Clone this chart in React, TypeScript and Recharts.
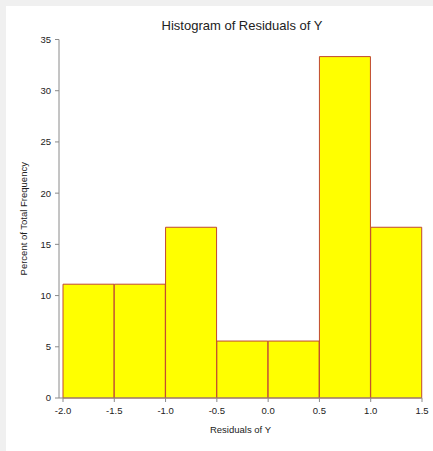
import React from 'react';
import { BarChart, Bar, XAxis, YAxis, Label } from 'recharts';

const binCenters = [-1.75, -1.25, -0.75, -0.25, 0.25, 0.75, 1.25];
const percents = [11.11, 11.11, 16.67, 5.56, 5.56, 33.33, 16.67];
const xTicks = [-2.0, -1.5, -1.0, -0.5, 0.0, 0.5, 1.0, 1.5];
const yTicks = [0, 5, 10, 15, 20, 25, 30, 35];
const title = 'Histogram of Residuals of Y';
const xTitle = 'Residuals of Y';
const yTitle = 'Percent of Total Frequency';

const data = binCenters.map((c, i) => ({ bin: String(i), mid: c, pct: percents[i] }));

const FONT = "Arial, 'Liberation Sans', sans-serif";
const AXIS = '#8a8a8a';
const TXT = '#222222';

export default function App() {
  return (
    <div style={{ position: 'absolute', left: 0, top: 0, width: 433, height: 451, background: '#f0f0f0', fontFamily: FONT }}>
      <div style={{ position: 'absolute', left: 6, top: 6, width: 427, height: 445, background: '#ffffff' }} />
      <div style={{ position: 'absolute', left: 0, top: 0 }}>
        <BarChart
          width={433}
          height={451}
          data={data}
          barCategoryGap={0}
          barGap={0}
          margin={{ top: 39.5, right: 11, bottom: 13, left: 0 }}
        >
          <XAxis xAxisId="cat" dataKey="bin" type="category" hide height={0} padding={{ left: 4, right: 0 }} />
          <XAxis
            xAxisId="num"
            dataKey="mid"
            type="number"
            domain={[-2, 1.5]}
            allowDataOverflow
            ticks={xTicks}
            tickFormatter={(v: number) => v.toFixed(1)}
            padding={{ left: 4, right: 0 }}
            height={40}
            stroke={AXIS}
            tickSize={4}
            tickMargin={5}
            tick={{ fill: TXT, fontSize: 9.5, fontFamily: FONT }}
          >
            <Label value={xTitle} position="insideBottom" offset={5.5} style={{ fill: TXT, fontSize: 9.5, fontFamily: FONT }} />
          </XAxis>
          <YAxis
            domain={[0, 35]}
            ticks={yTicks}
            width={59}
            stroke={AXIS}
            tickSize={4}
            tickMargin={4}
            tick={{ fill: TXT, fontSize: 9.5, fontFamily: FONT }}
          >
            <Label
              value={yTitle}
              angle={-90}
              position="insideLeft"
              offset={24}
              style={{ fill: TXT, fontSize: 9.5, fontFamily: FONT, textAnchor: 'middle' }}
            />
          </YAxis>
          <Bar xAxisId="cat" dataKey="pct" fill="#ffff00" stroke="#c04830" strokeWidth={1} isAnimationActive={false} />
        </BarChart>
      </div>
      <div
        style={{
          position: 'absolute',
          left: 142,
          width: 200,
          top: 18.7,
          textAlign: 'center',
          fontSize: 13,
          lineHeight: '13px',
          color: TXT,
          whiteSpace: 'nowrap',
        }}
      >
        {title}
      </div>
    </div>
  );
}
